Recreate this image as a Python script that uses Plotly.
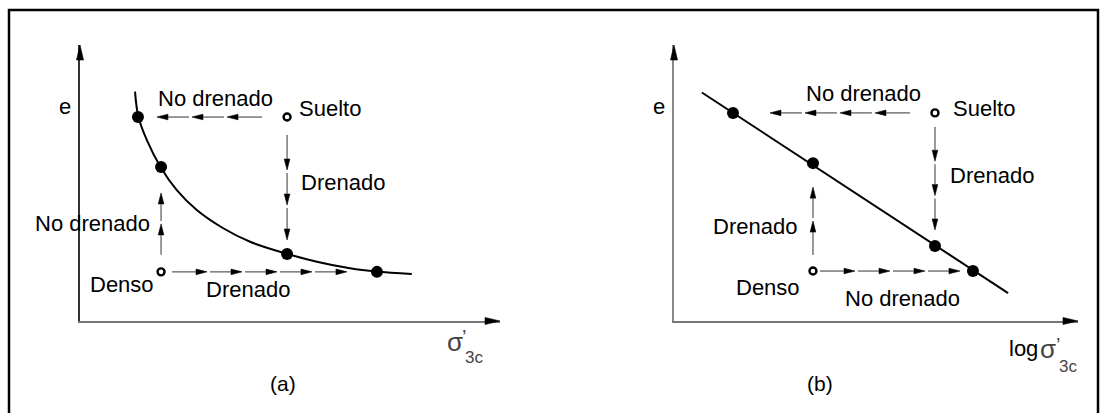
import plotly.graph_objects as go

W, H = 1100, 413

# ---------------- data (arbitrary units 0-10) ----------------
# Panel (a): void ratio e vs sigma'_3c
a_curve_sigma = [1.31, 1.39, 1.59, 1.92, 2.30, 2.78, 3.41, 4.05, 4.94, 5.64, 6.43, 7.06, 7.90]
a_curve_e = [8.31, 7.40, 6.56, 5.57, 4.75, 4.02, 3.36, 2.87, 2.43, 2.15, 1.91, 1.79, 1.70]
a_final_sigma = [1.38, 1.93, 4.93, 7.07]
a_final_e = [7.39, 5.58, 2.43, 1.78]
a_initial_names = ["Suelto", "Denso"]
a_initial_sigma = [4.93, 1.93]
a_initial_e = [7.39, 1.78]

# Panel (b): void ratio e vs log sigma'_3c
b_line_logsigma = [0.69, 8.27]
b_line_e = [8.28, 1.01]
b_final_logsigma = [1.46, 3.44, 6.46, 7.40]
b_final_e = [7.54, 5.72, 2.72, 1.81]
b_initial_names = ["Suelto", "Denso"]
b_initial_logsigma = [6.46, 3.44]
b_initial_e = [7.54, 1.81]

# stress paths: (initial index, final index, condition, number of arrowheads)
a_paths = [(0, 0, "No drenado", 3), (0, 2, "Drenado", 3), (1, 1, "No drenado", 2), (1, 3, "Drenado", 5)]
b_paths = [(0, 0, "No drenado", 4), (0, 2, "Drenado", 3), (1, 1, "Drenado", 2), (1, 3, "No drenado", 4)]

# ---------------- styling / geometry ----------------
PANELS = {
    "a": dict(x0=80, x1=500, y0=321, y1=45, xa="x", ya="y"),
    "b": dict(x0=674, x1=1078, y0=321, y1=45, xa="x2", ya="y2"),
}
RMAX = 10.0
# gaps (px) left free at the start / end of each path arrow
A_GAPS = [(25, 19), (18, 14), (17, 26), (11, 30)]
B_GAPS = [(25, 37), (14, 16), (16, 24), (7, 13)]
FONT = "Liberation Sans, Arial, sans-serif"


def to_px(p, x, y):
    g = PANELS[p]
    return (g["x0"] + x / RMAX * (g["x1"] - g["x0"]),
            g["y0"] - y / RMAX * (g["y0"] - g["y1"]))


def to_data(p, px, py):
    g = PANELS[p]
    return ((px - g["x0"]) / (g["x1"] - g["x0"]) * RMAX,
            (g["y0"] - py) / (g["y0"] - g["y1"]) * RMAX)


shapes = []


def head(p, tip_px, d, L=11, hw=2.8, color="black", paper=False):
    tx, ty = tip_px
    bx, by = tx - L * d[0], ty - L * d[1]
    nx, ny = -d[1], d[0]
    pts = [(tx, ty), (bx + hw * nx, by + hw * ny), (bx - hw * nx, by - hw * ny)]
    if paper:
        pts = [(q[0] / W, 1 - q[1] / H) for q in pts]
        xr, yr = "paper", "paper"
    else:
        pts = [to_data(p, *q) for q in pts]
        xr, yr = PANELS[p]["xa"], PANELS[p]["ya"]
    path = "M {},{} L {},{} L {},{} Z".format(*[v for q in pts for v in q])
    shapes.append(dict(type="path", xref=xr, yref=yr, path=path,
                       fillcolor=color, line=dict(color=color, width=0.6), layer="above"))
    return (bx, by)


def seg(p, a_px, b_px, color="#555", width=1.2):
    g = PANELS[p]
    x0, y0 = to_data(p, *a_px)
    x1, y1 = to_data(p, *b_px)
    shapes.append(dict(type="line", xref=g["xa"], yref=g["ya"], x0=x0, y0=y0, x1=x1, y1=y1,
                       line=dict(color=color, width=width), layer="above"))


def path_arrows(p, start, end, n, gaps):
    sx, sy = to_px(p, *start)
    ex, ey = to_px(p, *end)
    L = ((ex - sx) ** 2 + (ey - sy) ** 2) ** 0.5
    d = ((ex - sx) / L, (ey - sy) / L)
    S = (sx + gaps[0] * d[0], sy + gaps[0] * d[1])
    E = (ex - gaps[1] * d[0], ey - gaps[1] * d[1])
    Lt = ((E[0] - S[0]) ** 2 + (E[1] - S[1]) ** 2) ** 0.5
    step = Lt / n
    for i in range(n):
        t0 = i * step + (3 if i > 0 else 0)
        t1 = (i + 1) * step
        tail = (S[0] + t0 * d[0], S[1] + t0 * d[1])
        tip = (S[0] + t1 * d[0], S[1] + t1 * d[1])
        base = head(p, tip, d)
        seg(p, tail, base)


fig = go.Figure()

# ---- panel (a) ----
fig.add_trace(go.Scatter(x=a_curve_sigma, y=a_curve_e, mode="lines", line=dict(color="black", width=2, shape="spline"),
                         xaxis="x", yaxis="y", hoverinfo="skip", cliponaxis=False))
fig.add_trace(go.Scatter(x=a_final_sigma, y=a_final_e, mode="markers", marker=dict(color="black", size=12),
                         xaxis="x", yaxis="y", cliponaxis=False))
fig.add_trace(go.Scatter(x=a_initial_sigma, y=a_initial_e, mode="markers", text=a_initial_names,
                         marker=dict(color="black", size=7, symbol="circle-open", line=dict(width=2.4)),
                         xaxis="x", yaxis="y", cliponaxis=False))
for (i, f, cond, n), gp in zip(a_paths, A_GAPS):
    path_arrows("a", (a_initial_sigma[i], a_initial_e[i]), (a_final_sigma[f], a_final_e[f]), n, gp)

# ---- panel (b) ----
fig.add_trace(go.Scatter(x=b_line_logsigma, y=b_line_e, mode="lines", line=dict(color="black", width=2),
                         xaxis="x2", yaxis="y2", hoverinfo="skip", cliponaxis=False))
fig.add_trace(go.Scatter(x=b_final_logsigma, y=b_final_e, mode="markers", marker=dict(color="black", size=12),
                         xaxis="x2", yaxis="y2", cliponaxis=False))
fig.add_trace(go.Scatter(x=b_initial_logsigma, y=b_initial_e, mode="markers", text=b_initial_names,
                         marker=dict(color="black", size=7, symbol="circle-open", line=dict(width=2.4)),
                         xaxis="x2", yaxis="y2", cliponaxis=False))
for (i, f, cond, n), gp in zip(b_paths, B_GAPS):
    path_arrows("b", (b_initial_logsigma[i], b_initial_e[i]), (b_final_logsigma[f], b_final_e[f]), n, gp)

# axis arrowheads (paper coordinates so they are not clipped)
for p in ("a", "b"):
    head(p, to_px(p, 0, RMAX), (0, -1), L=15, hw=3.5, paper=True)
    head(p, to_px(p, RMAX, 0), (1, 0), L=15, hw=3.5, paper=True)

# outer frame
shapes.append(dict(type="rect", xref="paper", yref="paper", x0=9 / W, x1=1098 / W, y0=-0.1, y1=1 - 10 / H,
                   line=dict(color="black", width=2.5), layer="above"))

anns = []


def label(text, px, py, xanchor="center", size=22, color="black"):
    anns.append(dict(text=text, x=px / W, y=1 - py / H, xref="paper", yref="paper",
                     xanchor=xanchor, yanchor="middle", showarrow=False,
                     font=dict(family=FONT, size=size, color=color)))


# panel (a) labels
label("e", 65, 106)
label(a_paths[0][2], 215, 98)
label(a_initial_names[0], 297, 109, xanchor="left")
label(a_paths[1][2], 299, 183, xanchor="left")
label(a_paths[2][2], 152, 223, xanchor="right")
label(a_initial_names[1], 156, 284, xanchor="right")
label(a_paths[3][2], 248, 289)
label("σ", 455, 342, size=26, color="#444")
label("’", 464, 337, size=20, color="#444")
label("3c", 474, 357, size=17, color="#444")
label("(a)", 283, 383, size=21)

# panel (b) labels
label("e", 659, 106)
label(b_paths[0][2], 863, 94)
label(b_initial_names[0], 951, 109, xanchor="left")
label(b_paths[1][2], 948, 175, xanchor="left")
label(b_paths[2][2], 755, 227)
label(b_initial_names[1], 768, 287)
label(b_paths[3][2], 902, 298)
label("log", 1023, 348, size=22)
label("σ", 1048, 349, size=26, color="#444")
label("’", 1058, 345, size=20, color="#444")
label("3c", 1068, 366, size=17, color="#444")
label("(b)", 820, 383, size=21)

ax_common = dict(range=[0, RMAX], showline=True, linewidth=1.5, showticklabels=False, ticks="",
                 showgrid=False, zeroline=False, fixedrange=True)
g = PANELS["a"]
fig.update_layout(
    xaxis=dict(domain=[g["x0"] / W, g["x1"] / W], anchor="y", linecolor="#777", **ax_common),
    yaxis=dict(domain=[1 - g["y0"] / H, 1 - g["y1"] / H], anchor="x", linecolor="#333", **ax_common),
)
g = PANELS["b"]
fig.update_layout(
    xaxis2=dict(domain=[g["x0"] / W, g["x1"] / W], anchor="y2", linecolor="#777", **ax_common),
    yaxis2=dict(domain=[1 - g["y0"] / H, 1 - g["y1"] / H], anchor="x2", linecolor="#888", **ax_common),
)
fig.update_layout(width=W, height=H, margin=dict(l=0, r=0, t=0, b=0), showlegend=False,
                  paper_bgcolor="white", plot_bgcolor="white", shapes=shapes, annotations=anns,
                  hovermode=False)

fig.write_html("out.html", config={"displayModeBar": False})
